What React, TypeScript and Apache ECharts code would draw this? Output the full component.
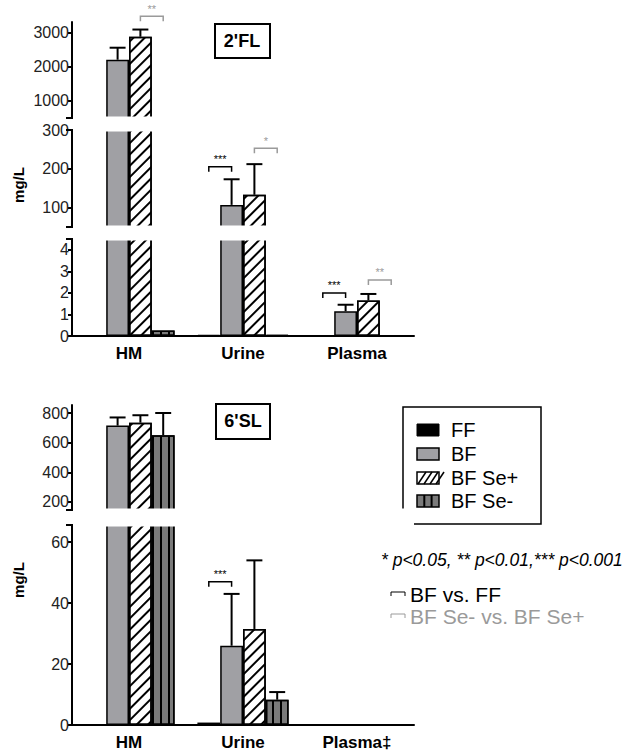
import React, { useEffect, useRef } from 'react';
import * as echarts from 'echarts';

const categories = ['HM', 'Urine', 'Plasma'];
const bottomCategories = ['HM', 'Urine', 'Plasma‡'];
const groups = ['FF', 'BF', 'BF Se+', 'BF Se-'];

// 2'FL means and upper error (mean + SD)
const fl_FF = [0, 0.05, 0.02];
const fl_BF = [2200, 107, 1.15];
const fl_SePlus = [2870, 133, 1.65];
const fl_SeMinus = [0.25, 0.05, 0.02];
const fl_BF_err = [2550, 173, 1.45];
const fl_SePlus_err = [3080, 212, 1.95];

// 6'SL
const sl_FF = [0, 0.8, 0];
const sl_BF = [715, 26, 0];
const sl_SePlus = [735, 31.5, 0];
const sl_SeMinus = [650, 8.3, 0];
const sl_BF_err = [770, 43, 0];
const sl_SePlus_err = [785, 54, 0];
const sl_SeMinus_err = [800, 10.8, 0];

const FONT = 'Liberation Sans, Arial, sans-serif';

const hatch = {
  symbol: 'rect', symbolSize: 1, color: '#000',
  dashArrayX: [1, 0], dashArrayY: [2, 6], rotation: -Math.PI / 4,
};
const stripes = {
  symbol: 'rect', symbolSize: 1, color: '#000',
  dashArrayX: [2, 6], dashArrayY: [1, 0], rotation: 0,
};

const barStyles = [
  { color: '#000', borderColor: '#000', borderWidth: 1.5 },
  { color: '#a0a0a4', borderColor: '#000', borderWidth: 1.5 },
  { color: '#fff', borderColor: '#000', borderWidth: 1.5, decal: hatch },
  { color: '#7a7a7a', borderColor: '#000', borderWidth: 1.5, decal: stripes },
];

const App: React.FC = () => {
  const chartRef = useRef<HTMLDivElement>(null);

  useEffect(() => {
    if (!chartRef.current) return;
    const chart = echarts.init(chartRef.current, undefined, { renderer: 'svg' });

    const grids = [
      { left: 72, width: 342, top: 22, height: 96 },
      { left: 72, width: 342, top: 130, height: 97 },
      { left: 72, width: 342, top: 239, height: 97 },
      { left: 72, width: 342, top: 405, height: 105 },
      { left: 72, width: 342, top: 525, height: 200 },
    ];
    const yRanges = [
      { min: 500, max: 3300, ticks: [1000, 2000, 3000] },
      { min: 50, max: 300, ticks: [100, 200, 300] },
      { min: 0, max: 4.5, ticks: [0, 1, 2, 3, 4] },
      { min: 146, max: 854, ticks: [200, 400, 600, 800] },
      { min: 0, max: 65.6, ticks: [0, 20, 40, 60] },
    ];
    const isBottom = [false, false, true, false, true];

    const xAxis: any[] = grids.map((_, i) => ({
      type: 'category', gridIndex: i,
      data: i < 3 ? categories : bottomCategories,
      show: isBottom[i],
      axisLine: { lineStyle: { color: '#000', width: 2 } },
      axisTick: { show: false },
      axisLabel: { fontFamily: FONT, fontWeight: 'bold', fontSize: 17, color: '#000', margin: 9 },
    }));
    const yAxis: any[] = yRanges.map((r, i) => ({
      type: 'value', gridIndex: i, min: r.min, max: r.max,
      splitLine: { show: false },
      axisLine: { show: true, lineStyle: { color: '#000', width: 2 } },
      axisTick: { show: true, length: 4, customValues: r.ticks, lineStyle: { width: 2 } },
      axisLabel: { customValues: r.ticks, formatter: (v: number) => String(v), fontFamily: FONT, fontSize: 16, color: '#222', margin: 3 },
    }));

    const series: any[] = [];
    const errorSeries = (gi: number, items: number[][]) => ({
      type: 'custom', xAxisIndex: gi, yAxisIndex: gi, z: 5,
      data: items,
      renderItem: (params: any, api: any) => {
        const cat = api.value(0), v = api.value(1), top = api.value(2), s = api.value(3);
        const bw = api.size([1, 0])[0] * 0.2;
        const cx = api.coord([cat, 0])[0] + (s - 1.5) * bw;
        const y0 = api.coord([cat, v])[1];
        const y1 = api.coord([cat, top])[1];
        const cs = params.coordSys;
        const clampY = (y: number) => Math.max(cs.y, Math.min(cs.y + cs.height, y));
        const a = clampY(y0), b = clampY(y1);
        const children: any[] = [];
        if (a !== b) children.push({ type: 'line', shape: { x1: cx, y1: a, x2: cx, y2: b }, style: { stroke: '#000', lineWidth: 2 } });
        if (y1 >= cs.y - 1 && y1 <= cs.y + cs.height)
          children.push({ type: 'line', shape: { x1: cx - bw * 0.35, y1: y1, x2: cx + bw * 0.35, y2: y1 }, style: { stroke: '#000', lineWidth: 2 } });
        return { type: 'group', children };
      },
    });
    const bracketSeries = (gi: number, items: any[]) => ({
      type: 'custom', xAxisIndex: gi, yAxisIndex: gi, z: 6, clip: false,
      data: items,
      renderItem: (params: any, api: any) => {
        const it = items[params.dataIndex];
        const bw = api.size([1, 0])[0] * 0.2;
        const base = api.coord([it[0], 0])[0];
        const x1 = base + (it[2] - 1.5) * bw, x2 = base + (it[3] - 1.5) * bw;
        const y = api.coord([it[0], it[1]])[1];
        const c = it[4];
        return {
          type: 'group', children: [
            { type: 'polyline', shape: { points: [[x1, y + 5], [x1, y], [x2, y], [x2, y + 5]] }, style: { stroke: c, lineWidth: 1.5, fill: null } },
            { type: 'text', style: { x: (x1 + x2) / 2, y: y - 2, text: it[5], fill: c, fontSize: 11, fontFamily: FONT, align: 'center', verticalAlign: 'bottom' } },
          ],
        };
      },
    });

    const flData = [fl_FF, fl_BF, fl_SePlus, fl_SeMinus];
    const slData = [sl_FF, sl_BF, sl_SePlus, sl_SeMinus];
    for (let gi = 0; gi < 5; gi++) {
      const d = gi < 3 ? flData : slData;
      d.forEach((vals, s) => {
        series.push({
          type: 'bar', name: groups[s], xAxisIndex: gi, yAxisIndex: gi,
          data: vals.map((v, k) => (gi >= 3 && k === 2) || (gi >= 3 && k === 0 && s === 0) ? null : v),
          barWidth: '20%', barGap: '0%', itemStyle: barStyles[s], clip: true,
        });
      });
      const errs: number[][] = [];
      if (gi < 3) {
        for (let k = 0; k < 3; k++) {
          errs.push([k, fl_BF[k], fl_BF_err[k], 1]);
          errs.push([k, fl_SePlus[k], fl_SePlus_err[k], 2]);
        }
      } else {
        for (let k = 0; k < 2; k++) {
          errs.push([k, sl_BF[k], sl_BF_err[k], 1]);
          errs.push([k, sl_SePlus[k], sl_SePlus_err[k], 2]);
          errs.push([k, sl_SeMinus[k], sl_SeMinus_err[k], 3]);
        }
      }
      series.push(errorSeries(gi, errs));
    }
    const gray = '#9a9a9a';
    series.push(bracketSeries(0, [[0, 3470, 2, 3, gray, '**']]));
    series.push(bracketSeries(1, [[1, 205, 0, 1, '#000', '***'], [1, 253, 2, 3, gray, '*']]));
    series.push(bracketSeries(2, [[2, 2.0, 0, 1, '#000', '***'], [2, 2.6, 2, 3, gray, '**']]));
    series.push(bracketSeries(4, [[1, 47, 0, 1, '#000', '***']]));

    const cap = (y: number) => ({ type: 'line', z: 100, shape: { x1: 66, y1: y, x2: 73, y2: y }, style: { stroke: '#000', lineWidth: 2 } });
    const gap = (y1: number, y2: number) => ({ type: 'rect', z: 50, shape: { x: 74, y: y1, width: 340, height: y2 - y1 }, style: { fill: '#fff' } });
    const swatchY = [430, 454, 478, 501];
    const graphic: any[] = [
      gap(116.5, 131.5), gap(225.5, 240.5), gap(508.5, 526.5),
      cap(118), cap(130), cap(227), cap(239), cap(510), cap(525),
      { type: 'rect', shape: { x: 215, y: 24, width: 55, height: 34 }, style: { fill: '#fff', stroke: '#000', lineWidth: 2 } },
      { type: 'text', x: 242, y: 41, style: { text: "2'FL", font: `bold 18px ${FONT}`, fill: '#000', align: 'center', verticalAlign: 'middle' } },
      { type: 'rect', shape: { x: 216, y: 404, width: 54, height: 35 }, style: { fill: '#fff', stroke: '#000', lineWidth: 2 } },
      { type: 'text', x: 243, y: 421, style: { text: "6'SL", font: `bold 18px ${FONT}`, fill: '#000', align: 'center', verticalAlign: 'middle' } },
      { type: 'text', x: 18, y: 185, rotation: Math.PI / 2, style: { text: 'mg/L', font: `bold 15px ${FONT}`, fill: '#000', align: 'center', verticalAlign: 'middle' } },
      { type: 'text', x: 18, y: 580, rotation: Math.PI / 2, style: { text: 'mg/L', font: `bold 15px ${FONT}`, fill: '#000', align: 'center', verticalAlign: 'middle' } },
      { type: 'rect', shape: { x: 403, y: 407, width: 138, height: 117 }, style: { fill: '#fff', stroke: '#000', lineWidth: 1.5 } },
      { type: 'rect', shape: { x: 417, y: swatchY[0] - 6, width: 22, height: 12 }, style: { fill: '#000', stroke: '#000', lineWidth: 1 } },
      { type: 'rect', shape: { x: 417, y: swatchY[1] - 6, width: 22, height: 12 }, style: { fill: '#a0a0a4', stroke: '#000', lineWidth: 1.5 } },
      { type: 'rect', shape: { x: 417, y: swatchY[2] - 6, width: 22, height: 12 }, style: { fill: '#fff', stroke: '#000', lineWidth: 1.5 } },
      ...[0, 1, 2, 3].map((j) => ({ type: 'line', shape: { x1: 417 + j * 6 + 1, y1: swatchY[2] + 6, x2: 417 + j * 6 + 9, y2: swatchY[2] - 6 }, style: { stroke: '#000', lineWidth: 1.5 } })),
      { type: 'rect', shape: { x: 417, y: swatchY[3] - 6, width: 22, height: 12 }, style: { fill: '#7a7a7a', stroke: '#000', lineWidth: 1.5 } },
      ...[1, 2].map((j) => ({ type: 'line', shape: { x1: 417 + j * 7.3, y1: swatchY[3] - 6, x2: 417 + j * 7.3, y2: swatchY[3] + 6 }, style: { stroke: '#000', lineWidth: 2 } })),
      ...groups.map((g, j) => ({ type: 'text', x: 451, y: swatchY[j], style: { text: g, font: `20px ${FONT}`, fill: '#000', verticalAlign: 'middle' } })),
      { type: 'text', x: 381, y: 560, style: { text: '* p<0.05, ** p<0.01,*** p<0.001', font: `italic 17.5px ${FONT}`, fill: '#000', verticalAlign: 'middle' } },
      { type: 'polyline', shape: { points: [[391, 596], [391, 592], [405, 592], [405, 596]] }, style: { stroke: '#000', lineWidth: 1, fill: null } },
      { type: 'text', x: 410, y: 594, style: { text: 'BF vs. FF', font: `21px ${FONT}`, fill: '#000', verticalAlign: 'middle' } },
      { type: 'polyline', shape: { points: [[391, 618], [391, 614], [405, 614], [405, 618]] }, style: { stroke: gray, lineWidth: 1, fill: null } },
      { type: 'text', x: 410, y: 616, style: { text: 'BF Se- vs. BF Se+', font: `21px ${FONT}`, fill: gray, verticalAlign: 'middle' } },
    ];

    chart.setOption({
      animation: false,
      aria: { decal: { show: false } },
      grid: grids,
      xAxis, yAxis, series, graphic,
    });
    return () => chart.dispose();
  }, []);

  return <div ref={chartRef} style={{ position: 'absolute', left: 0, top: 0, width: 642, height: 752 }} />;
};

export default App;
